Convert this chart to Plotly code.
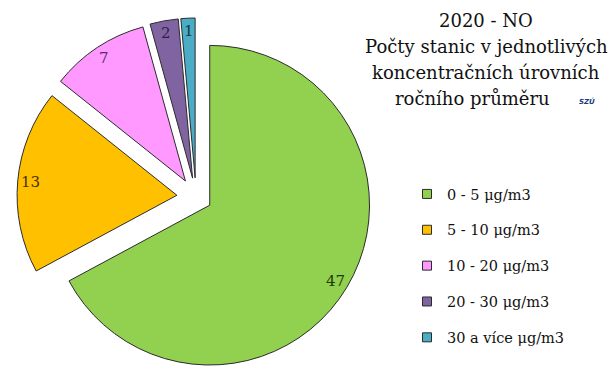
import math
import plotly.graph_objects as go

# Figure size in px
W, H = 613, 376

# Data
categories = ["0 - 5 μg/m3", "5 - 10 μg/m3", "10 - 20 μg/m3", "20 - 30 μg/m3", "30 a více μg/m3"]
counts = [47, 13, 7, 2, 1]
colors = ["#92D050", "#FFC000", "#FF99FF", "#8064A2", "#4BACC6"]
label_colors = ["#1f3a0a", "#4a3000", "#5a2a6e", "#2e1f4a", "#123c48"]
pulls = [0.10, 0.12, 0.12, 0.12, 0.12]
title_lines = ["2020 - NO", "Počty stanic v jednotlivých", "koncentračních úrovních", "ročního průměru"]

FONT = "DejaVu Serif"
EDGE = "#2b2b2b"

# Pie placement (pixels from top-left)
box_top, box_bottom = 18, H
box = box_bottom - box_top
cx_px = 196
dom_x = [(cx_px - box / 2) / W, (cx_px + box / 2) / W]
dom_y = [1 - box_bottom / H, 1 - box_top / H]

fig = go.Figure()
fig.add_trace(go.Pie(
    values=counts,
    labels=categories,
    marker=dict(colors=colors, line=dict(color=EDGE, width=1)),
    pull=pulls,
    sort=False,
    direction="clockwise",
    rotation=0,
    textinfo="none",
    hoverinfo="label+value",
    showlegend=False,
    domain=dict(x=dom_x, y=dom_y),
))

# Legend entries (one group per category so the spacing can be set)
for cat, col in zip(categories, colors):
    fig.add_trace(go.Scatter(
        x=[None], y=[None], mode="markers", name=cat, legendgroup=cat,
        marker=dict(symbol="square", size=9, color=col, line=dict(color=EDGE, width=1)),
    ))

# Value labels placed near the outer rim of each (pulled) slice,
# using the same geometry plotly uses for the pie
max_pull = max(pulls)
r = box / (2 + 2 * max_pull)
cy_px = box_top + box / 2
total = sum(counts)
cum = 0
annotations = []
for v, p, lc in zip(counts, pulls, label_colors):
    theta = math.radians(360 * (cum + v / 2) / total)
    cum += v
    sx, sy = math.sin(theta), -math.cos(theta)
    px = cx_px + (p * r + 0.92 * r) * sx
    py = cy_px + (p * r + 0.92 * r) * sy
    annotations.append(dict(
        x=px / W, y=1 - py / H, xref="paper", yref="paper",
        text=str(v), showarrow=False,
        font=dict(family=FONT, size=15, color=lc),
        xanchor="center", yanchor="middle",
    ))

# Title block on the right
title_cx = 486
title_y0, title_step = 20, 26.3
for i, line in enumerate(title_lines):
    x = title_cx if i < len(title_lines) - 1 else title_cx - 14
    annotations.append(dict(
        x=x / W, y=1 - (title_y0 + i * title_step) / H, xref="paper", yref="paper",
        text=line, showarrow=False,
        font=dict(family=FONT, size=18, color="#111111"),
        xanchor="center", yanchor="middle",
    ))
# small institute mark after the last title line
annotations.append(dict(
    x=587 / W, y=1 - 102 / H, xref="paper", yref="paper",
    text="<b><i>SZÚ</i></b>", showarrow=False,
    font=dict(family="DejaVu Sans", size=7, color="#1a3a7a"),
    xanchor="center", yanchor="middle",
))

fig.update_layout(
    width=W, height=H,
    margin=dict(l=0, r=0, t=0, b=0),
    paper_bgcolor="white", plot_bgcolor="white",
    xaxis=dict(visible=False), yaxis=dict(visible=False),
    annotations=annotations,
    showlegend=True,
    legend=dict(
        x=407 / W, y=1 - 178 / H, xanchor="left", yanchor="top",
        font=dict(family=FONT, size=14.5, color="#111111"),
        tracegroupgap=14, itemsizing="trace",
        bgcolor="rgba(0,0,0,0)",
    ),
)

fig.write_html("out.html")
